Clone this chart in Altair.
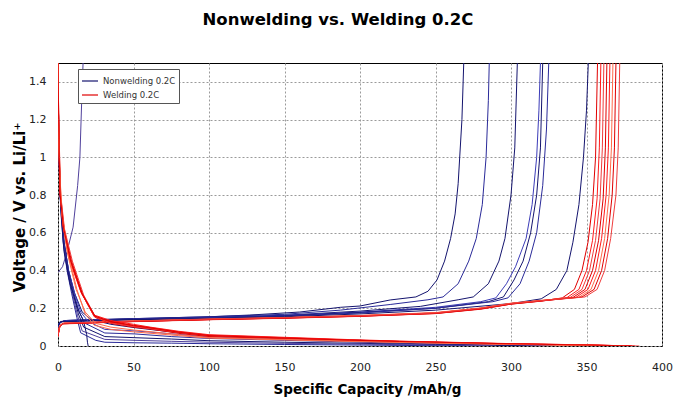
import altair as alt
import pandas as pd

# ---------------- data: (capacity mAh/g, voltage V) ----------------
# Nonwelding 0.2C - charge (delithiation) curves
NW_CH_A = [(0,0.10),(1,0.125),(5,0.135),(50,0.145),(100,0.155),(127,0.164),(160,0.18),(187,0.205),(200,0.212),(220,0.244),(237,0.26),(245,0.29),(251,0.35),(256,0.45),(260,0.57),(263,0.7),(265,0.86),(267.5,1.2),(268.7,1.5)]
NW_CH_B = [(0,0.10),(1,0.125),(5,0.135),(50,0.145),(100,0.155),(150,0.168),(187,0.19),(220,0.22),(245,0.245),(255,0.26),(265,0.33),(272,0.45),(277,0.57),(281,0.75),(283.5,1.0),(285,1.3),(285.6,1.5)]
NW_CH_C = [(0,0.10),(1,0.125),(5,0.135),(50,0.143),(100,0.152),(150,0.163),(200,0.185),(240,0.21),(265,0.245),(275,0.26),(285,0.33),(292,0.45),(296,0.57),(300,0.8),(302.5,1.05),(304.2,1.5)]
NW_CH_D = [(0,0.10),(1,0.125),(5,0.135),(50,0.142),(100,0.15),(150,0.162),(200,0.18),(250,0.205),(280,0.235),(290,0.255),(297,0.33),(303,0.42),(310,0.57),(314,0.75),(317,1.0),(318.5,1.25),(319.5,1.5)]
NW_CH_E = [(0,0.105),(2,0.128),(50,0.14),(100,0.148),(150,0.16),(200,0.178),(250,0.2),(285,0.235),(295,0.26),(302,0.35),(308,0.45),(313,0.6),(317,0.8),(319.5,1.05),(321,1.5)]
NW_CH_F = [(0,0.11),(2,0.13),(50,0.14),(100,0.148),(150,0.158),(200,0.175),(250,0.2),(288,0.235),(298,0.255),(306,0.33),(312,0.45),(317,0.6),(321,0.85),(323.5,1.15),(325,1.5)]
NW_CH_G = [(0,0.11),(2,0.13),(50,0.14),(100,0.145),(150,0.155),(200,0.17),(250,0.19),(300,0.225),(320,0.25),(330,0.3),(337,0.4),(341,0.55),(345,0.75),(348,1.0),(350,1.25),(351.2,1.5)]
NW_CH_S = [(0,0.39),(3,0.42),(6,0.5),(10,0.63),(13,0.85),(14.5,1.0),(15.7,1.3),(16.6,1.5)]

# Nonwelding 0.2C - discharge (lithiation) curves
NW_DC_1 = [(0,1.5),(0.5,1.1),(1.5,0.8),(4,0.55),(7,0.4),(11,0.28),(16,0.18),(22,0.14),(35,0.115),(51,0.097),(75,0.075),(100,0.055),(150,0.04),(200,0.03),(260,0.015),(300,0.006),(330,0)]
NW_DC_2 = [(0,1.5),(0.5,1.1),(1.5,0.8),(4,0.55),(7,0.4),(11,0.28),(15,0.18),(20,0.13),(31,0.088),(51,0.08),(75,0.065),(100,0.048),(150,0.035),(200,0.025),(260,0.012),(300,0.005),(325,0)]
NW_DC_3 = [(0,1.5),(0.5,1.1),(1.5,0.8),(4,0.55),(7,0.4),(10.5,0.28),(14,0.18),(18,0.12),(31,0.069),(51,0.064),(75,0.05),(100,0.04),(150,0.03),(200,0.02),(250,0.01),(300,0.004),(320,0)]
NW_DC_4 = [(0,1.5),(0.5,1.1),(1.4,0.8),(3.8,0.55),(6.5,0.4),(10,0.28),(13.5,0.17),(17,0.1),(31,0.05),(51,0.044),(75,0.037),(100,0.028),(150,0.02),(200,0.014),(250,0.008),(290,0.003),(310,0)]
NW_DC_5 = [(0,1.5),(0.5,1.1),(1.4,0.8),(3.6,0.55),(6.2,0.4),(9.5,0.28),(13,0.16),(16,0.08),(31,0.035),(51,0.03),(75,0.025),(100,0.02),(150,0.014),(200,0.01),(250,0.005),(290,0)]
NW_DC_6 = [(0,1.5),(0.5,1.1),(1.3,0.8),(3.4,0.55),(6,0.4),(9,0.28),(12.5,0.15),(15,0.07),(25,0.03),(31,0.02),(51,0.017),(75,0.015),(100,0.012),(150,0.008),(200,0.005),(270,0)]
NW_DC_7 = [(0,1.5),(0.5,1.0),(2,0.7),(4,0.5),(8,0.33),(13,0.2),(17,0.13),(19,0.06),(19.5,0.02),(20,0)]

# Welding 0.2C - charge (delithiation) curves
W_CH_1 = [(0,0.05),(1,0.10),(3,0.118),(50,0.13),(100,0.14),(150,0.148),(200,0.158),(250,0.172),(280,0.195),(300,0.222),(320,0.238),(334,0.255),(342,0.3),(347,0.4),(351,0.55),(354,0.75),(356,1.0),(357.3,1.5)]
W_CH_2 = [(0,0.06),(1,0.105),(3,0.12),(50,0.131),(100,0.141),(150,0.15),(200,0.16),(250,0.175),(280,0.2),(300,0.225),(320,0.24),(337,0.256),(345,0.3),(350,0.4),(354,0.56),(357,0.78),(358.5,1.05),(359.5,1.5)]
W_CH_3 = [(0,0.055),(1,0.10),(3,0.117),(50,0.129),(100,0.139),(150,0.147),(200,0.157),(250,0.172),(280,0.197),(300,0.222),(320,0.238),(339,0.256),(347,0.3),(352,0.4),(356,0.56),(359,0.78),(360.5,1.05),(361.5,1.5)]
W_CH_4 = [(0,0.06),(1.5,0.11),(4,0.12),(50,0.132),(100,0.142),(150,0.15),(200,0.161),(250,0.176),(280,0.2),(300,0.226),(320,0.241),(341,0.257),(349,0.3),(354,0.4),(358,0.56),(361,0.78),(362.5,1.05),(363.5,1.5)]
W_CH_5 = [(0,0.05),(1,0.10),(3,0.118),(50,0.13),(100,0.14),(150,0.149),(200,0.159),(250,0.174),(280,0.198),(300,0.224),(320,0.24),(343,0.258),(351,0.3),(356,0.4),(360,0.57),(363,0.8),(364.5,1.05),(365.5,1.5)]
W_CH_6 = [(0,0.065),(1.5,0.112),(4,0.122),(50,0.133),(100,0.143),(150,0.151),(200,0.162),(250,0.177),(280,0.202),(300,0.227),(320,0.242),(345,0.258),(353,0.3),(358,0.4),(362,0.57),(365,0.8),(366.5,1.05),(367.5,1.5)]
W_CH_7 = [(0,0.055),(1,0.10),(3,0.119),(50,0.13),(100,0.14),(150,0.148),(200,0.158),(250,0.173),(280,0.197),(300,0.223),(320,0.239),(347,0.26),(355,0.3),(360,0.4),(364,0.57),(367,0.8),(368.5,1.05),(369.5,1.5)]
W_CH_8 = [(0,0.06),(1.5,0.11),(4,0.121),(50,0.132),(100,0.142),(150,0.15),(200,0.16),(250,0.175),(280,0.2),(300,0.225),(320,0.24),(349,0.26),(357,0.3),(362,0.4),(366,0.57),(369.5,0.8),(371,1.05),(372,1.5)]

# Welding 0.2C - discharge (lithiation) curves
W_DC_1 = [(0,1.5),(0.4,1.2),(0.8,1.0),(1.4,0.81),(3.5,0.63),(8,0.455),(15.5,0.28),(24,0.16),(35,0.13),(50,0.11),(61,0.098),(80,0.075),(100,0.057),(150,0.044),(193,0.032),(226,0.025),(298,0.012),(350,0.006),(382,0)]
W_DC_2 = [(0,1.5),(0.4,1.2),(0.9,1.0),(1.5,0.8),(3.8,0.62),(8.5,0.45),(16,0.275),(24,0.155),(35,0.125),(50,0.105),(61,0.094),(80,0.07),(100,0.053),(150,0.041),(193,0.03),(226,0.023),(298,0.011),(350,0.005),(378,0)]
W_DC_3 = [(0,1.5),(0.5,1.2),(1,1.0),(1.7,0.8),(4,0.62),(9,0.45),(16.5,0.27),(25,0.15),(35,0.12),(50,0.10),(61,0.09),(80,0.067),(100,0.05),(150,0.039),(193,0.028),(226,0.021),(298,0.01),(350,0.004),(375,0)]
W_DC_4 = [(0,1.5),(0.5,1.2),(1.1,1.0),(1.8,0.8),(4.3,0.62),(9.5,0.45),(17,0.27),(25,0.152),(35,0.122),(50,0.103),(61,0.092),(80,0.072),(100,0.055),(150,0.043),(193,0.031),(226,0.024),(298,0.011),(350,0.005),(385,0)]
W_DC_5 = [(0,1.5),(0.3,1.2),(0.7,1.0),(1.2,0.82),(3.2,0.64),(7.5,0.46),(15,0.29),(23.5,0.165),(35,0.135),(50,0.115),(61,0.10),(80,0.078),(100,0.06),(150,0.046),(193,0.034),(226,0.026),(298,0.013),(350,0.006),(380,0)]
W_DC_6 = [(0,1.5),(0.5,1.1),(1.2,0.9),(2.5,0.7),(6,0.5),(12,0.3),(18,0.18),(25,0.12),(35,0.10),(50,0.085),(80,0.06),(100,0.045),(150,0.035),(200,0.025),(250,0.017),(300,0.009),(350,0.004),(376,0)]
W_DC_7 = [(0,1.5),(0.5,1.1),(1.3,0.9),(2.7,0.7),(6.5,0.5),(12.5,0.3),(18,0.17),(24,0.11),(35,0.088),(50,0.075),(80,0.055),(100,0.042),(150,0.032),(200,0.023),(250,0.015),(300,0.008),(350,0.003),(372,0)]
W_DC_8 = [(0,1.5),(0.45,1.2),(0.85,1.0),(1.45,0.8),(3.6,0.63),(8.2,0.455),(15.8,0.28),(24.5,0.158),(35,0.128),(50,0.108),(61,0.096),(80,0.073),(100,0.055),(150,0.042),(193,0.031),(226,0.024),(298,0.012),(350,0.005),(380,0)]

LEGEND_LABELS = ["Nonwelding 0.2C", "Welding 0.2C"]
SHADE_NAMES = ["Nonwelding 0.2C", "Welding 0.2C", "nw2", "nw3", "nw4", "w2", "w3", "w4"]
SHADE_COLORS = ["#14146e", "#e00000", "#2a2a99", "#3b3bb8", "#50419c", "#ff1a1a", "#f03c3c", "#ff6a4a"]
X_TICKS = [0, 50, 100, 150, 200, 250, 300, 350, 400]
Y_TICKS = [0, 0.2, 0.4, 0.6, 0.8, 1.0, 1.2, 1.4]

curves = [
    ("nw_ch_a", "Nonwelding 0.2C", NW_CH_A), ("nw_ch_b", "nw2", NW_CH_B),
    ("nw_ch_c", "Nonwelding 0.2C", NW_CH_C), ("nw_ch_d", "nw3", NW_CH_D),
    ("nw_ch_e", "Nonwelding 0.2C", NW_CH_E), ("nw_ch_f", "nw2", NW_CH_F),
    ("nw_ch_g", "Nonwelding 0.2C", NW_CH_G), ("nw_ch_s", "nw4", NW_CH_S),
    ("nw_dc_1", "Nonwelding 0.2C", NW_DC_1), ("nw_dc_2", "nw3", NW_DC_2),
    ("nw_dc_3", "nw2", NW_DC_3), ("nw_dc_4", "Nonwelding 0.2C", NW_DC_4),
    ("nw_dc_5", "nw4", NW_DC_5), ("nw_dc_6", "nw2", NW_DC_6),
    ("nw_dc_7", "Nonwelding 0.2C", NW_DC_7),
    ("w_ch_1", "Welding 0.2C", W_CH_1), ("w_ch_2", "w2", W_CH_2),
    ("w_ch_3", "w3", W_CH_3), ("w_ch_4", "Welding 0.2C", W_CH_4),
    ("w_ch_5", "w2", W_CH_5), ("w_ch_6", "w4", W_CH_6),
    ("w_ch_7", "Welding 0.2C", W_CH_7), ("w_ch_8", "w3", W_CH_8),
    ("w_dc_1", "Welding 0.2C", W_DC_1), ("w_dc_2", "w2", W_DC_2),
    ("w_dc_3", "Welding 0.2C", W_DC_3), ("w_dc_4", "w3", W_DC_4),
    ("w_dc_5", "w2", W_DC_5), ("w_dc_6", "w4", W_DC_6),
    ("w_dc_7", "w4", W_DC_7), ("w_dc_8", "Welding 0.2C", W_DC_8),
]

rows = []
for cid, shade, pts in curves:
    for i, (c, v) in enumerate(pts):
        rows.append({"curve": cid, "shade": shade, "i": i, "cap": c, "volt": v})
df = pd.DataFrame(rows)

FONT = "DejaVu Sans"

chart = alt.Chart(df).mark_line(strokeWidth=1, clip=True).encode(
    x=alt.X("cap:Q",
            scale=alt.Scale(domain=[0, 400], nice=False, zero=False),
            axis=alt.Axis(values=X_TICKS, title="Specific Capacity  /mAh/g",
                          titleX=309, titleY=47, titleBaseline="alphabetic",
                          labelPadding=15, labelFlush=False)),
    y=alt.Y("volt:Q",
            scale=alt.Scale(domain=[0, 1.5], nice=False, zero=False),
            axis=alt.Axis(values=Y_TICKS, format="~g", title="Voltage / V vs. Li/Li\u207a",
                          titleX=-34, titleY=144, titleAngle=270,
                          titleBaseline="alphabetic", titleAlign="center",
                          labelPadding=12, labelFlush=False)),
    color=alt.Color("shade:N",
                    scale=alt.Scale(domain=SHADE_NAMES, range=SHADE_COLORS),
                    legend=alt.Legend(values=LEGEND_LABELS, title=None, orient="none",
                                      legendX=20, legendY=6)),
    detail="curve:N",
    order="i:Q",
).properties(
    width=604,
    height=283,
    padding={"left": 50, "top": 55, "right": 26, "bottom": 52},
    autosize=alt.AutoSizeParams(type="none"),
    title=alt.TitleParams("Nonwelding vs. Welding 0.2C", font=FONT, fontSize=16.5,
                          fontWeight="bold", color="#000", anchor="middle",
                          baseline="alphabetic", offset=22, dx=-22),
).configure_view(
    stroke="#000", strokeWidth=1
).configure_axis(
    labelFont=FONT, labelFontSize=11, labelColor="#222",
    titleFont=FONT, titleFontWeight="bold", titleColor="#000",
    ticks=False, domain=False,
    grid=True, gridColor="#9a9a9a", gridDash=[2, 2], gridWidth=1,
).configure_axisX(
    titleFontSize=13.5
).configure_axisY(
    titleFontSize=15
).configure_legend(
    fillColor="#fff", strokeColor="#555", padding=3,
    symbolType="stroke", symbolSize=256, symbolStrokeWidth=1.2,
    labelFont=FONT, labelFontSize=8.5, labelColor="#333",
    rowPadding=-1, labelOffset=4,
)

chart.save("out.html", embed_options={"renderer": "svg", "actions": False})
